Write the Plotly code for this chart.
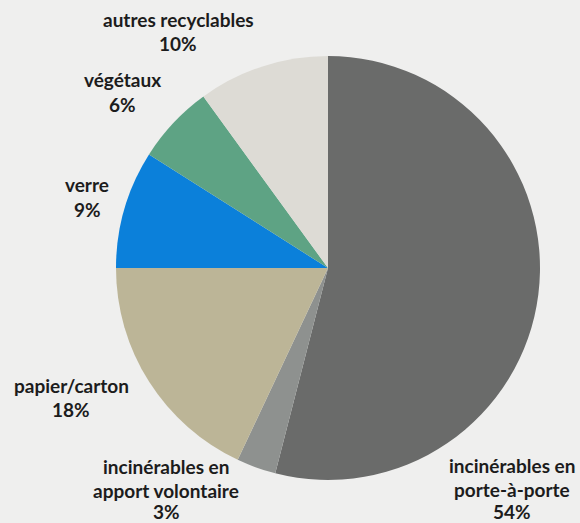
import plotly.graph_objects as go

categories = ["incinérables en porte-à-porte", "incinérables en apport volontaire",
              "papier/carton", "verre", "végétaux", "autres recyclables"]
label_lines = [["incinérables en", "porte-à-porte"], ["incinérables en", "apport volontaire"],
               ["papier/carton"], ["verre"], ["végétaux"], ["autres recyclables"]]
values = [54, 3, 18, 9, 6, 10]
colors = ["#6a6b6a", "#8e918f", "#bcb597", "#0b80da", "#5ea384", "#dddbd5"]

W, H = 580, 523
cx, cy, r = 328, 268, 212

fig = go.Figure(go.Pie(
    labels=categories, values=values, sort=False, direction="clockwise", rotation=0,
    marker=dict(colors=colors, line=dict(width=0)),
    textinfo="none", hoverinfo="label+percent", showlegend=False,
    domain=dict(x=[(cx - r) / W, (cx + r) / W], y=[1 - (cy + r) / H, 1 - (cy - r) / H]),
))

# label block anchor: centre x, y of first line (pixels)
anchors = [(512, 465), (166, 466), (71, 385), (87, 185), (122, 80), (178, 19)]
line_gap = 24.5
anns = []
for lines, v, (ax, ay) in zip(label_lines, values, anchors):
    for i, t in enumerate(lines + [f"{v}%"]):
        y = min(ay + i * line_gap, 511)
        anns.append(dict(x=ax / W, y=1 - y / H, xref="paper", yref="paper",
                         text=t, showarrow=False, xanchor="center", yanchor="middle",
                         font=dict(family="Lato", size=19, color="#1c1c1c", weight="bold")))

fig.update_layout(
    width=W, height=H, margin=dict(l=0, r=0, t=0, b=0),
    paper_bgcolor="#efefee", plot_bgcolor="#efefee",
    annotations=anns,
)
fig.write_html("out.html")
